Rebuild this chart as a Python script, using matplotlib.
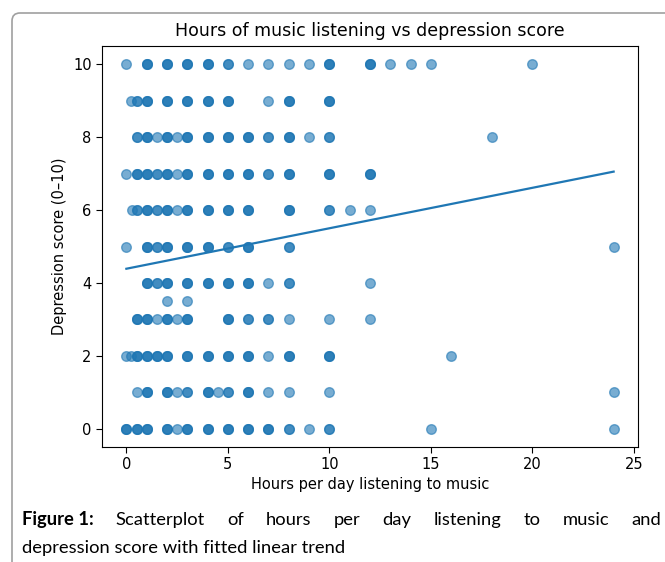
import numpy as np
import matplotlib
matplotlib.use('Agg')
import matplotlib.pyplot as plt
from matplotlib.patches import FancyBboxPatch

# depression score rows, with listening hours seen on each row
# counts = how many respondents stack on the same spot (darker dots)
scores = [10, 9, 8, 7, 6, 5, 4, 3.5, 3, 2, 1, 0]
hours = [
    [0, 1, 2, 3, 4, 5, 6, 7, 8, 9, 10, 12, 13, 14, 15, 20],
    [0.25, 0.5, 1, 2, 3, 4, 5, 7, 8, 10],
    [0.5, 1, 1.5, 2, 2.5, 3, 4, 5, 6, 7, 8, 9, 10, 18],
    [0, 0.5, 1, 1.5, 2, 2.5, 3, 4, 5, 6, 7, 8, 10, 12],
    [0.3, 0.5, 1, 1.5, 2, 2.5, 3, 4, 5, 6, 8, 10, 11, 12],
    [0, 1, 1.5, 2, 3, 4, 5, 6, 8, 24],
    [1, 1.5, 2, 3, 4, 5, 6, 7, 8, 12],
    [2, 3],
    [0.5, 1, 1.5, 2, 2.5, 3, 5, 6, 7, 8, 10, 12],
    [0, 0.25, 0.5, 1, 1.5, 2, 3, 4, 5, 6, 7, 8, 10, 16],
    [0.5, 1, 2, 2.5, 3, 4, 4.5, 5, 6, 7, 8, 10, 24],
    [0, 0.5, 1, 2, 2.5, 3, 4, 5, 6, 7, 8, 9, 10, 15, 24],
]
counts = [
    [1, 3, 3, 3, 3, 2, 1, 1, 1, 1, 3, 3, 1, 1, 1, 1],
    [1, 2, 3, 3, 3, 3, 3, 1, 3, 3],
    [2, 3, 1, 3, 1, 3, 3, 3, 3, 2, 3, 1, 2, 1],
    [1, 3, 3, 2, 3, 1, 3, 3, 3, 3, 2, 3, 3, 3],
    [1, 2, 3, 2, 3, 1, 3, 3, 3, 3, 3, 2, 1, 1],
    [1, 3, 2, 3, 3, 3, 2, 3, 2, 1],
    [3, 2, 3, 3, 3, 3, 3, 1, 2, 1],
    [1, 1],
    [3, 3, 1, 3, 1, 3, 3, 2, 2, 1, 1, 1],
    [1, 1, 3, 3, 3, 3, 3, 3, 3, 3, 1, 3, 3, 1],
    [1, 3, 3, 1, 2, 3, 1, 2, 3, 1, 1, 1, 1],
    [3, 3, 3, 3, 1, 3, 3, 3, 3, 3, 2, 1, 2, 1, 1],
]
# fitted linear trend
fit_intercept = 4.39
fit_slope = 0.111

x = np.concatenate([np.repeat(h, c) for h, c in zip(hours, counts)])
y = np.concatenate([np.repeat(s, sum(c)) for s, c in zip(scores, counts)])

W, H = 665, 562
fig = plt.figure(figsize=(W / 100, H / 100), dpi=100)

# frame round the figure panel
frame = FancyBboxPatch((0.12, -1.0), 8.0, 5.49 + 1.0,
                       boxstyle='round,pad=0,rounding_size=0.08',
                       transform=fig.dpi_scale_trans, facecolor='none',
                       edgecolor='#a0a0a0', lw=1.2)
fig.patches.append(frame)

ax = fig.add_axes([102 / W, 1 - 447 / H, (638 - 102) / W, (447 - 46) / H])
ax.scatter(x, y, s=48, color='#1f77b4', alpha=0.6)
xs = np.array([x.min(), x.max()])
ax.plot(xs, fit_intercept + fit_slope * xs, color='#1f77b4', lw=1.6)

ax.set_xticks([0, 5, 10, 15, 20, 25])
ax.set_yticks([0, 2, 4, 6, 8, 10])
ax.tick_params(labelsize=10.5, length=4)
ax.set_title('Hours of music listening vs depression score', fontsize=12.5, pad=7)
ax.set_xlabel('Hours per day listening to music', fontsize=10.5, labelpad=3)
ax.set_ylabel('Depression score (0–10)', fontsize=10.5)

# caption, first line justified
cap_font = 'Lato'
cap_size = 13.2
y1 = 1 - 520 / H
y2 = 1 - 548 / H
words = ['Figure 1:', 'Scatterplot', 'of', 'hours', 'per', 'day', 'listening',
         'to', 'music', 'and']
bold = [True] + [False] * 9
left, right = 22, 661
texts = [fig.text(0, y1, w, fontsize=cap_size, family=cap_font, va='center',
                  fontweight='bold' if b else 'normal') for w, b in zip(words, bold)]
r = fig.canvas.get_renderer()
widths = [t.get_window_extent(r).width for t in texts]
gap = (right - left - sum(widths)) / (len(words) - 1)
pos = left
for t, wd in zip(texts, widths):
    t.set_x(pos / W)
    pos += wd + gap
fig.text(left / W, y2, 'depression score with fitted linear trend',
         fontsize=cap_size, family=cap_font, va='center')

fig.savefig('out.png', dpi=100)
